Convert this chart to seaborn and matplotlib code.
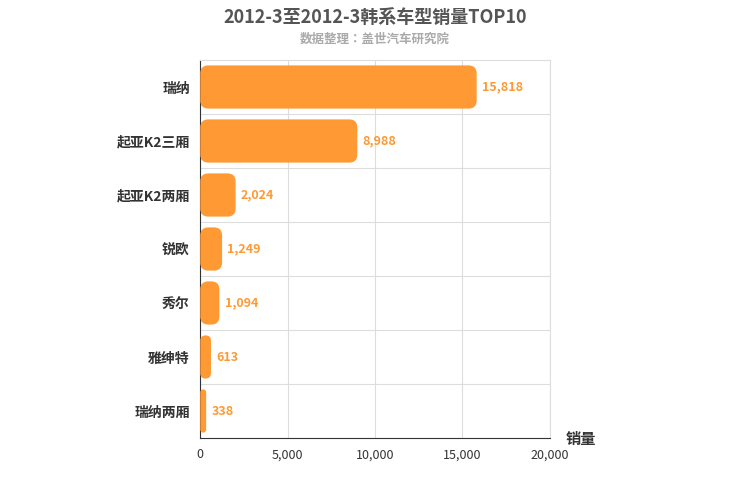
import matplotlib.pyplot as plt
import seaborn as sns
import pandas as pd
from matplotlib import font_manager
from matplotlib.patches import FancyBboxPatch

cjk = [f.name for f in font_manager.fontManager.ttflist if 'CJK' in f.name]
plt.rcParams['font.family'] = (cjk[:1] if cjk else []) + ['DejaVu Sans']
sns.set_style("white")
plt.rcParams['font.family'] = (cjk[:1] if cjk else []) + ['DejaVu Sans']

models = ['瑞纳', '起亚K2三厢', '起亚K2两厢', '锐欧', '秀尔', '雅绅特', '瑞纳两厢']
sales = [15818, 8988, 2024, 1249, 1094, 613, 338]
xticks = [0, 5000, 10000, 15000, 20000]

df = pd.DataFrame({'model': models, 'sales': sales})
bar_color = '#ff9933'

fig = plt.figure(figsize=(7.5, 5), dpi=100)
ax = fig.add_axes([0.267, 0.124, 0.466, 0.756])
sns.barplot(data=df, y='model', x='sales', color=bar_color, width=0.8, ax=ax, saturation=1)

aspect = (7 / 378) / (20000 / 350)
for p in list(ax.patches):
    x0, y0, w, h = p.get_x(), p.get_y(), p.get_width(), p.get_height()
    p.remove()
    r = min(460, w / 2)
    ax.add_patch(FancyBboxPatch((x0, y0), w, h, boxstyle=f"round,pad=0,rounding_size={r}",
                                mutation_aspect=aspect, facecolor=bar_color, edgecolor='none',
                                zorder=3))
    ax.text(w + 300, y0 + h / 2, f'{w:,.0f}', va='center', ha='left',
            color=bar_color, fontsize=9, fontweight='bold')

ax.set_xlim(0, 20000)
ax.set_xticks(xticks)
ax.set_xticklabels([f'{t:,}' for t in xticks], fontsize=9, color='#333333')
ax.set_ylim(len(models) - 0.5, -0.5)
ax.set_yticks(range(len(models)))
ax.set_yticklabels(models, fontsize=10, fontweight='bold', color='#333333')
ax.set_ylabel('')
ax.set_xlabel('')
ax.grid(axis='x', color='#dddddd', linewidth=0.8, zorder=0)
ax.set_axisbelow(True)
for y in [i + 0.5 for i in range(len(models) - 1)]:
    ax.axhline(y, color='#dddddd', linewidth=0.8, zorder=0)
for s in ['top', 'right']:
    ax.spines[s].set_color('#dddddd')
ax.spines['left'].set_color('#333333')
ax.spines['bottom'].set_color('#333333')
ax.tick_params(axis='both', length=4, color='#333333')

fig.text(0.5, 0.965, '2012-3至2012-3韩系车型销量TOP10', ha='center', va='center',
         fontsize=13, fontweight='bold', color='#555555')
fig.text(0.5, 0.922, '数据整理：盖世汽车研究院', ha='center', va='center',
         fontsize=9, fontweight='bold', color='#aaaaaa')
fig.text(0.775, 0.122, '销量', ha='center', va='center', fontsize=11,
         fontweight='bold', color='#333333')

fig.savefig('out.png', dpi=100)
